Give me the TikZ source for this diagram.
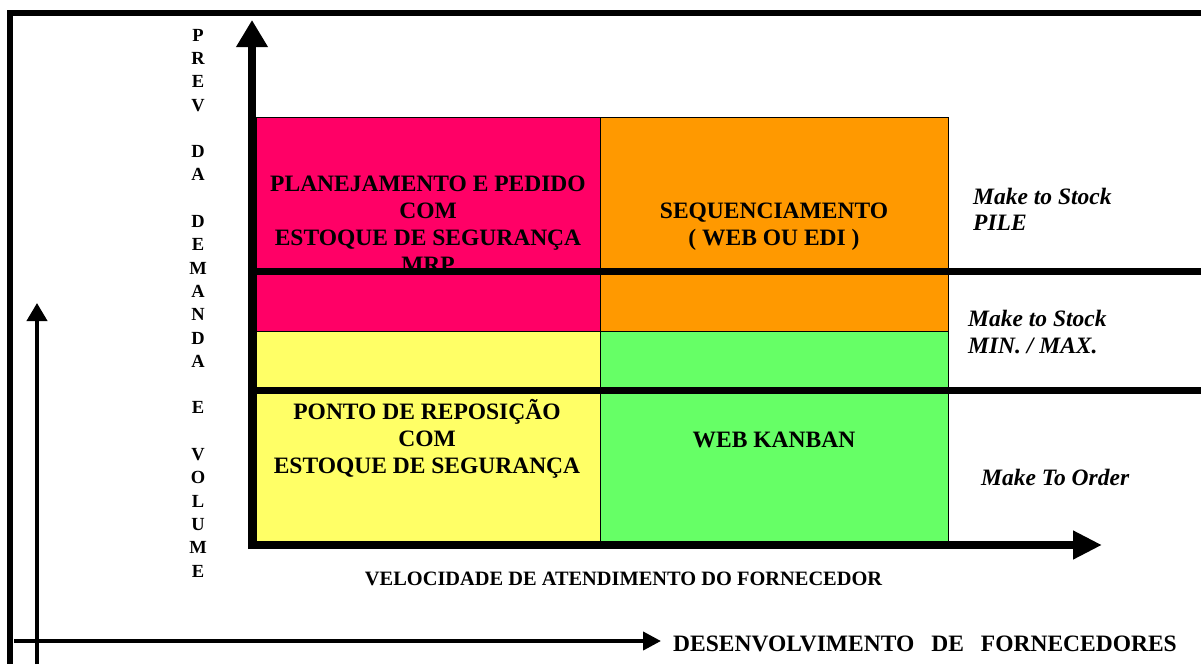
\documentclass[tikz,border=0pt]{standalone}
\usepackage{fontspec}
\setmainfont{Liberation Serif}
\usetikzlibrary{arrows.meta}
\definecolor{pinkc}{HTML}{FF0066}
\definecolor{orangec}{HTML}{FF9900}
\definecolor{yellowc}{HTML}{FFFF66}
\definecolor{greenc}{HTML}{66FF66}
\tikzset{
  cellbox/.style={draw=black, line width=1.2pt, inner sep=0pt, anchor=north west},
  celltxt/.style={font=\fontsize{23.5}{27}\selectfont\bfseries, align=center, inner sep=0pt},
  sidetxt/.style={font=\fontsize{23.5}{26.5}\selectfont\bfseries\itshape, align=left, inner sep=0pt},
  bar/.style={line width=7pt},
  framebar/.style={line width=6pt},
  mainaxis/.style={line width=7.5pt, -{Triangle[length=27pt,width=30pt]}},
  smallaxis/.style={line width=4pt, -{Triangle[length=18pt,width=18pt]}},
}
\begin{document}
\begin{tikzpicture}[x=1pt,y=-1pt]
\useasboundingbox (0,0) rectangle (1201,664);
\fill[white] (0,0) rectangle (1201,664);

% outer frame lines
\coordinate (ftl) at (7,13);
\coordinate (ftr) at (1201,13);
\coordinate (flt) at (10,10);
\coordinate (flb) at (10,664);
\draw[framebar] (ftl) -- (ftr);
\draw[framebar] (flt) -- (flb);

% cells
\node[cellbox, fill=pinkc, minimum width=344pt, minimum height=214pt] (pinkcell) at (256,117) {};
\node[cellbox, fill=orangec, minimum width=348pt, minimum height=214pt] (orangecell) at (600,117) {};
\node[cellbox, fill=yellowc, minimum width=344pt, minimum height=214pt] (yellowcell) at (256,331) {};
\node[cellbox, fill=greenc, minimum width=348pt, minimum height=214pt] (greencell) at (600,331) {};

% cell texts
\node[celltxt] (plan) at (428,224.7) {PLANEJAMENTO E PEDIDO\\COM\\ESTOQUE DE SEGURANÇA\\MRP};
\node[celltxt] (seq) at (774,227) {SEQUENCIAMENTO\\( WEB OU EDI )};
\node[celltxt] (ponto) at (427,439) {PONTO DE REPOSIÇÃO\\COM\\ESTOQUE DE SEGURANÇA};
\node[celltxt] (kanban) at (774,439.5) {WEB KANBAN};

% thick separators
\coordinate (s1a) at (252,271);
\coordinate (s1b) at (1201,271);
\coordinate (s2a) at (252,390);
\coordinate (s2b) at (1201,390);
\draw[bar] (s1a) -- (s1b);
\draw[bar] (s2a) -- (s2b);

% side texts
\node[sidetxt, anchor=west] (mts1) at (973,209.5) {Make to Stock\\PILE};
\node[sidetxt, anchor=west] (mts2) at (968,332) {Make to Stock\\MIN. / MAX.};
\node[sidetxt, anchor=base west] (mto) at (981,485) {Make To Order};

% main axes
\coordinate (yax0) at (252,549);
\coordinate (yax1) at (252,20);
\coordinate (xax0) at (248,545);
\coordinate (xax1) at (1102,545);
\draw[mainaxis] (yax0) -- (yax1);
\draw[mainaxis, -{Triangle[length=29pt,width=27pt]}] (xax0) -- (xax1);

% vertical axis label
\node[font=\fontsize{18.5}{23.3}\selectfont\bfseries, align=center, inner sep=0pt, anchor=north] (prev) at (198,28.8)
  {P\\R\\E\\V\\\mbox{}\\D\\A\\\mbox{}\\D\\E\\M\\A\\N\\D\\A\\\mbox{}\\E\\\mbox{}\\V\\O\\L\\U\\M\\E};

% horizontal axis label
\node[font=\fontsize{20.4}{24}\selectfont\bfseries, inner sep=0pt, anchor=base] (vel) at (623.6,585) {VELOCIDADE DE ATENDIMENTO DO FORNECEDOR};

% outer small axes
\coordinate (oy0) at (37,664);
\coordinate (oy1) at (37,303);
\coordinate (ox0) at (14,641);
\coordinate (ox1) at (661,641);
\draw[smallaxis, -{Triangle[length=18pt,width=20pt]}] (oy0) -- (oy1);
\draw[smallaxis] (ox0) -- (ox1);
\node[font=\fontsize{23.5}{27}\selectfont\bfseries, inner sep=0pt, anchor=base west] (desenv) at (673,651) {DESENVOLVIMENTO\hspace{17pt}DE\hspace{17pt}FORNECEDORES};
\end{tikzpicture}
\end{document}
